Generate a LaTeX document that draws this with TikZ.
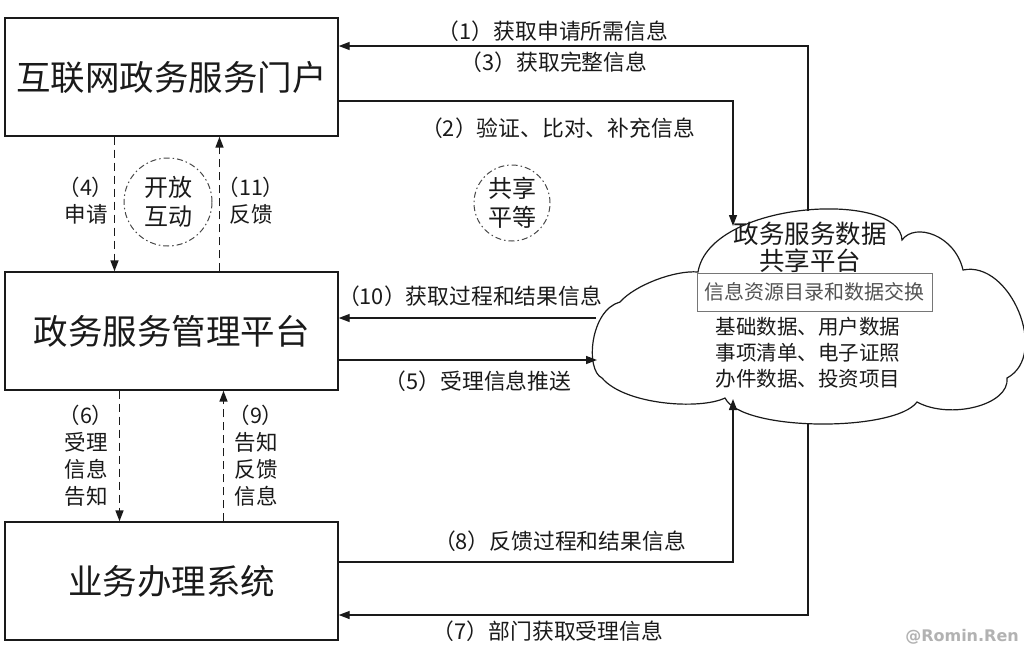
\documentclass[tikz,border=0pt]{standalone}
\usepackage{fontspec}
\setmainfont{Noto Sans CJK SC}
\newfontfamily\wmfont{DejaVu Sans}
\usetikzlibrary{arrows.meta}
\definecolor{ink}{HTML}{1A1A1A}
\begin{document}
\begin{tikzpicture}[x=1pt,y=-1pt,
  box/.style={draw=ink,line width=1.4pt,minimum width=333pt,minimum height=118pt,inner sep=0pt,
    font=\fontsize{34.5}{36}\selectfont,text=ink},
  arr/.style={draw=ink,line width=1.4pt,-{Triangle[length=11pt,width=8pt]}},
  plain/.style={draw=ink,line width=1.3pt},
  dasharr/.style={arr,line width=1.6pt,dash pattern=on 8pt off 5pt},
  lbl/.style={font=\fontsize{21.8}{24}\selectfont,text=ink,inner sep=0pt},
  side/.style={font=\fontsize{21.5}{27}\selectfont,text=ink,inner sep=0pt,align=center},
  ring/.style={draw=ink!80,line width=1pt,dash pattern=on 6pt off 3pt on 1.5pt off 3pt,circle,inner sep=0pt,
    align=center,font=\fontsize{24}{29}\selectfont,text=ink},
  cl/.style={font=\fontsize{20.5}{26}\selectfont,text=ink,inner sep=0pt,align=center}]
\useasboundingbox (0,0) rectangle (1024,654);
\fill[white] (0,0) rectangle (1024,654);

% boxes
\node[box] (portal) at (171.5,77) {互联网政务服务门户};
\node[box] (mgmt) at (171.5,331) {政务服务管理平台};
\node[box] (biz) at (171.5,581) {业务办理系统};

% cloud
\draw[plain,line width=1.2pt]
  (602,378) .. controls (585,370) and (590,310) .. (620,302)
  .. controls (635,285) and (675,270) .. (698,272)
  .. controls (710,200) and (900,190) .. (902,240)
  .. controls (915,222) and (955,235) .. (963,270)
  .. controls (1010,260) and (1050,355) .. (1007,378)
  .. controls (1010,405) and (950,420) .. (917,402)
  .. controls (895,432) and (742,432) .. (725,398)
  .. controls (700,410) and (625,405) .. (602,378) -- cycle;
\coordinate (cT) at (808,211);
\coordinate (cTL) at (733,226);
\coordinate (cL1) at (596,318);
\coordinate (cL2) at (597,360);
\coordinate (cBL) at (733,399);
\coordinate (cB) at (808,424);

\node[cl,font=\fontsize{25.5}{27}\selectfont] (ctitle) at (810,247) {政务服务数据\\共享平台};
\node[draw=ink!60,line width=1pt,minimum width=235pt,minimum height=38pt,inner sep=0pt,
  font=\fontsize{20}{24}\selectfont,text=ink!75] (exch) at (814.5,292) {信息资源目录和数据交换};
\node[cl] (cdata) at (808,353) {基础数据、用户数据\\事项清单、电子证照\\办件数据、投资项目};

% portal <-> cloud
\draw[arr] (cT) |- ([yshift=31pt]portal.east);
\draw[arr] ([yshift=-24pt]portal.east) -| (cTL);
\node[lbl] (l1) at (553,31) {（1）获取申请所需信息};
\node[lbl] (l3) at (554,62) {（3）获取完整信息};
\node[lbl] (l2) at (558,128) {（2）验证、比对、补充信息};

% mgmt <-> cloud
\draw[arr] (cL1) -- ([yshift=13pt]mgmt.east);
\draw[arr] ([yshift=-29pt]mgmt.east) -- (cL2);
\node[lbl] (l10) at (470,296) {（10）获取过程和结果信息};
\node[lbl] (l5) at (478,381) {（5）受理信息推送};

% biz <-> cloud
\draw[arr] ([yshift=19pt]biz.east) -| (cBL);
\draw[arr] (cB) |- ([yshift=-34pt]biz.east);
\node[lbl] (l8) at (560,541) {（8）反馈过程和结果信息};
\node[lbl] (l7) at (548,631) {（7）部门获取受理信息};

% dashed vertical arrows
\draw[dasharr] ([xshift=-57pt]portal.south) -- ([xshift=-57pt]mgmt.north);
\draw[dasharr] ([xshift=48pt]mgmt.north) -- ([xshift=48pt]portal.south);
\draw[dasharr] ([xshift=-52pt]mgmt.south) -- ([xshift=-52pt]biz.north);
\draw[dasharr] ([xshift=52pt]biz.north) -- ([xshift=52pt]mgmt.south);

\node[side] (l4) at (86,201) {（4）\\申请};
\node[side] (l11) at (251,201) {（11）\\反馈};
\node[side] (l6) at (86,456) {（6）\\受理\\信息\\告知};
\node[side] (l9) at (256,456) {（9）\\告知\\反馈\\信息};

% circles
\node[ring,minimum size=88pt] (open) at (168,202) {开放\\互动};
\node[ring,minimum size=76pt] (share) at (512,203) {共享\\平等};

% watermark
\node[font=\wmfont\bfseries\fontsize{16}{18}\selectfont,text=black!30,inner sep=0pt] (wm) at (962,637) {@Romin.Ren};
\end{tikzpicture}
\end{document}
